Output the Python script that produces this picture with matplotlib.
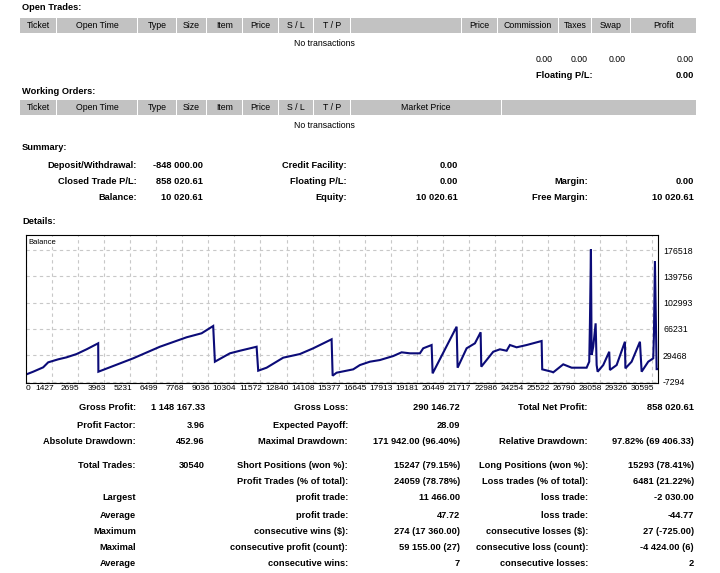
import matplotlib
matplotlib.use("Agg")
import matplotlib.pyplot as plt
import matplotlib.transforms as mtransforms
from matplotlib import font_manager
from matplotlib.patches import Rectangle

W, H = 720, 573

# balance curve (trade number, balance)
trades = [160, 533, 1019, 1262, 1748, 2156, 2641, 3127, 3691, 3700,
          5391, 6688, 7985, 8714, 9277, 9360, 10089, 10575, 11386, 11464,
          11872, 12678, 13489, 14136, 15029, 15080, 15272, 16079, 16404, 16890,
          17376, 18022, 18430, 18833, 19319, 19479, 19887, 19936, 21102, 21150,
          21588, 21991, 22268, 22300, 22880, 23205, 23531, 23691, 24017, 24503,
          25231, 25260, 25717, 25795, 26281, 26689, 27417, 27544, 27578, 27626,
          27660, 27738, 27855, 27904, 27952, 28224, 28515, 28549, 28875, 29278,
          29300, 29603, 30007, 30089, 30410, 30653, 30687, 30735, 30818, 30850]
balance = [2200, 6400, 12500, 19500, 23700, 26500, 31100, 37700, 46100, 6400,
           25100, 41300, 54500, 60100, 70300, 20400, 32100, 35700, 41300, 7800,
           12000, 26000, 31100, 39100, 51700, 800, 5000, 9700, 15700, 20400,
           22700, 28300, 33500, 32100, 32100, 39100, 43700, 4100, 69300, 12000,
           39100, 46100, 61500, 13400, 34300, 37700, 35700, 43700, 40500, 43700,
           49300, 9700, 6400, 5500, 16700, 12000, 12000, 20400, 74000, 177500,
           29700, 41300, 74000, 15700, 6400, 15700, 34300, 8800, 15700, 48300,
           11100, 20400, 48300, 6400, 20400, 25100, 57700, 161100, 10000, 10000]

x_tick_labels = [0, 1427, 2695, 3963, 5231, 6499, 7768, 9036, 10304, 11572,
                 12840, 14108, 15377, 16645, 17913, 19181, 20449, 21717, 22986,
                 24254, 25522, 26790, 28058, 29326, 30595]
y_ticks = [-7294, 29468, 66231, 102993, 139756, 176518]

open_cols = ["Ticket", "Open Time", "Type", "Size", "Item", "Price", "S / L", "T / P",
             "", "Price", "Commission", "Taxes", "Swap", "Profit"]
order_cols = ["Ticket", "Open Time", "Type", "Size", "Item", "Price", "S / L", "T / P",
              "Market Price", ""]
open_totals = ["0.00", "0.00", "0.00", "0.00"]

summary_rows = [
    ("Deposit/Withdrawal:", "-848 000.00", "Credit Facility:", "0.00", "", ""),
    ("Closed Trade P/L:", "858 020.61", "Floating P/L:", "0.00", "Margin:", "0.00"),
    ("Balance:", "10 020.61", "Equity:", "10 020.61", "Free Margin:", "10 020.61"),
]
stats_rows = [
    ("Gross Profit:", "1 148 167.33", "Gross Loss:", "290 146.72", "Total Net Profit:", "858 020.61"),
    ("Profit Factor:", "3.96", "Expected Payoff:", "28.09", "", ""),
    ("Absolute Drawdown:", "452.96", "Maximal Drawdown:", "171 942.00 (96.40%)",
     "Relative Drawdown:", "97.82% (69 406.33)"),
    ("Total Trades:", "30540", "Short Positions (won %):", "15247 (79.15%)",
     "Long Positions (won %):", "15293 (78.41%)"),
    ("", "", "Profit Trades (% of total):", "24059 (78.78%)",
     "Loss trades (% of total):", "6481 (21.22%)"),
    ("Largest", "", "profit trade:", "11 466.00", "loss trade:", "-2 030.00"),
    ("Average", "", "profit trade:", "47.72", "loss trade:", "-44.77"),
    ("Maximum", "", "consecutive wins ($):", "274 (17 360.00)",
     "consecutive losses ($):", "27 (-725.00)"),
    ("Maximal", "", "consecutive profit (count):", "59 155.00 (27)",
     "consecutive loss (count):", "-4 424.00 (6)"),
    ("Average", "", "consecutive wins:", "7", "consecutive losses:", "2"),
]


def pick_font(names):
    for n in names:
        try:
            font_manager.findfont(font_manager.FontProperties(family=n),
                                  fallback_to_default=False)
            return n
        except Exception:
            pass
    return "DejaVu Sans"


FONT = pick_font(["Liberation Sans Narrow", "Liberation Sans"])
k = 1.0 if FONT == "Liberation Sans Narrow" else 0.86
FS_B = 7.8 * k   # bold labels
FS_N = 7.3 * k   # plain text
FS_T = 7.0 * k   # graph tick labels
plt.rcParams["font.family"] = FONT

fig = plt.figure(figsize=(W / 100, H / 100), dpi=100)
fig.patch.set_facecolor("white")


def txt(x, y, s, ha="left", bold=False):
    if s:
        fig.text(x / W, 1 - y / H, s, ha=ha, va="center",
                 fontsize=FS_B if bold else FS_N,
                 fontweight="bold" if bold else "normal", color="black")


def header_row(y0, edges, labels):
    for i, lab in enumerate(labels):
        x0, x1 = edges[i], edges[i + 1] - 1
        fig.add_artist(Rectangle((x0 / W, 1 - (y0 + 15) / H), (x1 - x0) / W, 15 / H,
                                 transform=fig.transFigure, facecolor="#c2c2c2",
                                 edgecolor="none"))
        txt((x0 + x1) / 2, y0 + 8, lab, ha="center")


# open trades / working orders
txt(22, 8, "Open Trades:", bold=True)
header_row(18, [20, 57, 138, 177, 207, 243, 279, 314, 351, 462, 498, 559, 592, 631, 697], open_cols)
txt(324, 43, "No transactions", ha="center")
for xr, v in zip([553, 588, 626, 694], open_totals):
    txt(xr, 59, v, ha="right")
txt(593, 75, "Floating P/L:", ha="right", bold=True)
txt(694, 75, "0.00", ha="right", bold=True)

txt(22, 91, "Working Orders:", bold=True)
header_row(100, [20, 57, 138, 177, 207, 243, 279, 314, 351, 502, 697], order_cols)
txt(324, 125, "No transactions", ha="center")

# summary
txt(22, 148, "Summary:", bold=True)
for i, row in enumerate(summary_rows):
    y = 165 + 16 * i
    for xr, s in zip([137, 203, 347, 458, 588, 694], row):
        txt(xr, y, s, ha="right", bold=True)

txt(22, 221, "Details:", bold=True)

# balance graph
ax = fig.add_axes([25.5 / W, 1 - 382.7 / H, 632 / W, 147.7 / H])
ax.plot(trades, balance, color="#0b0b78", lw=1.5, solid_joinstyle="miter")
ax.set_xlim(160, 30860)
ax.set_ylim(-8970, 197490)
x_pos = [160] + x_tick_labels[1:]
ax.set_xticks(x_pos)
ax.set_xticklabels([str(v) for v in x_tick_labels], fontsize=FS_T)
ax.set_yticks(y_ticks)
ax.set_yticklabels([str(v) for v in y_ticks], fontsize=FS_T + 0.3)
ax.yaxis.tick_right()
ax.tick_params(axis="both", length=0, colors="black", pad=2)
ax.tick_params(axis="y", pad=4)
ax.grid(True, color="#c8c8c8", linestyle=(0, (3, 3)), linewidth=0.8)
for sp in ax.spines.values():
    sp.set_color("black")
    sp.set_linewidth(0.8)
shift = mtransforms.ScaledTranslation(2 / 100, 0, fig.dpi_scale_trans)
for i, lab in enumerate(ax.get_xticklabels()):
    if i == 0:
        lab.set_ha("left")
    else:
        lab.set_ha("right")
        lab.set_transform(lab.get_transform() + shift)
ax.text(0.005, 0.975, "Balance", transform=ax.transAxes, ha="left", va="top",
        fontsize=FS_N - 0.8)

# statistics
stat_y = [408, 425, 441, 465, 482, 498, 515, 531, 548, 564]
for y, row in zip(stat_y, stats_rows):
    for xr, s in zip([136, 205, 348, 460, 588, 694], row):
        txt(xr, y, s, ha="right", bold=True)

fig.savefig("out.png", dpi=100, facecolor="white")
